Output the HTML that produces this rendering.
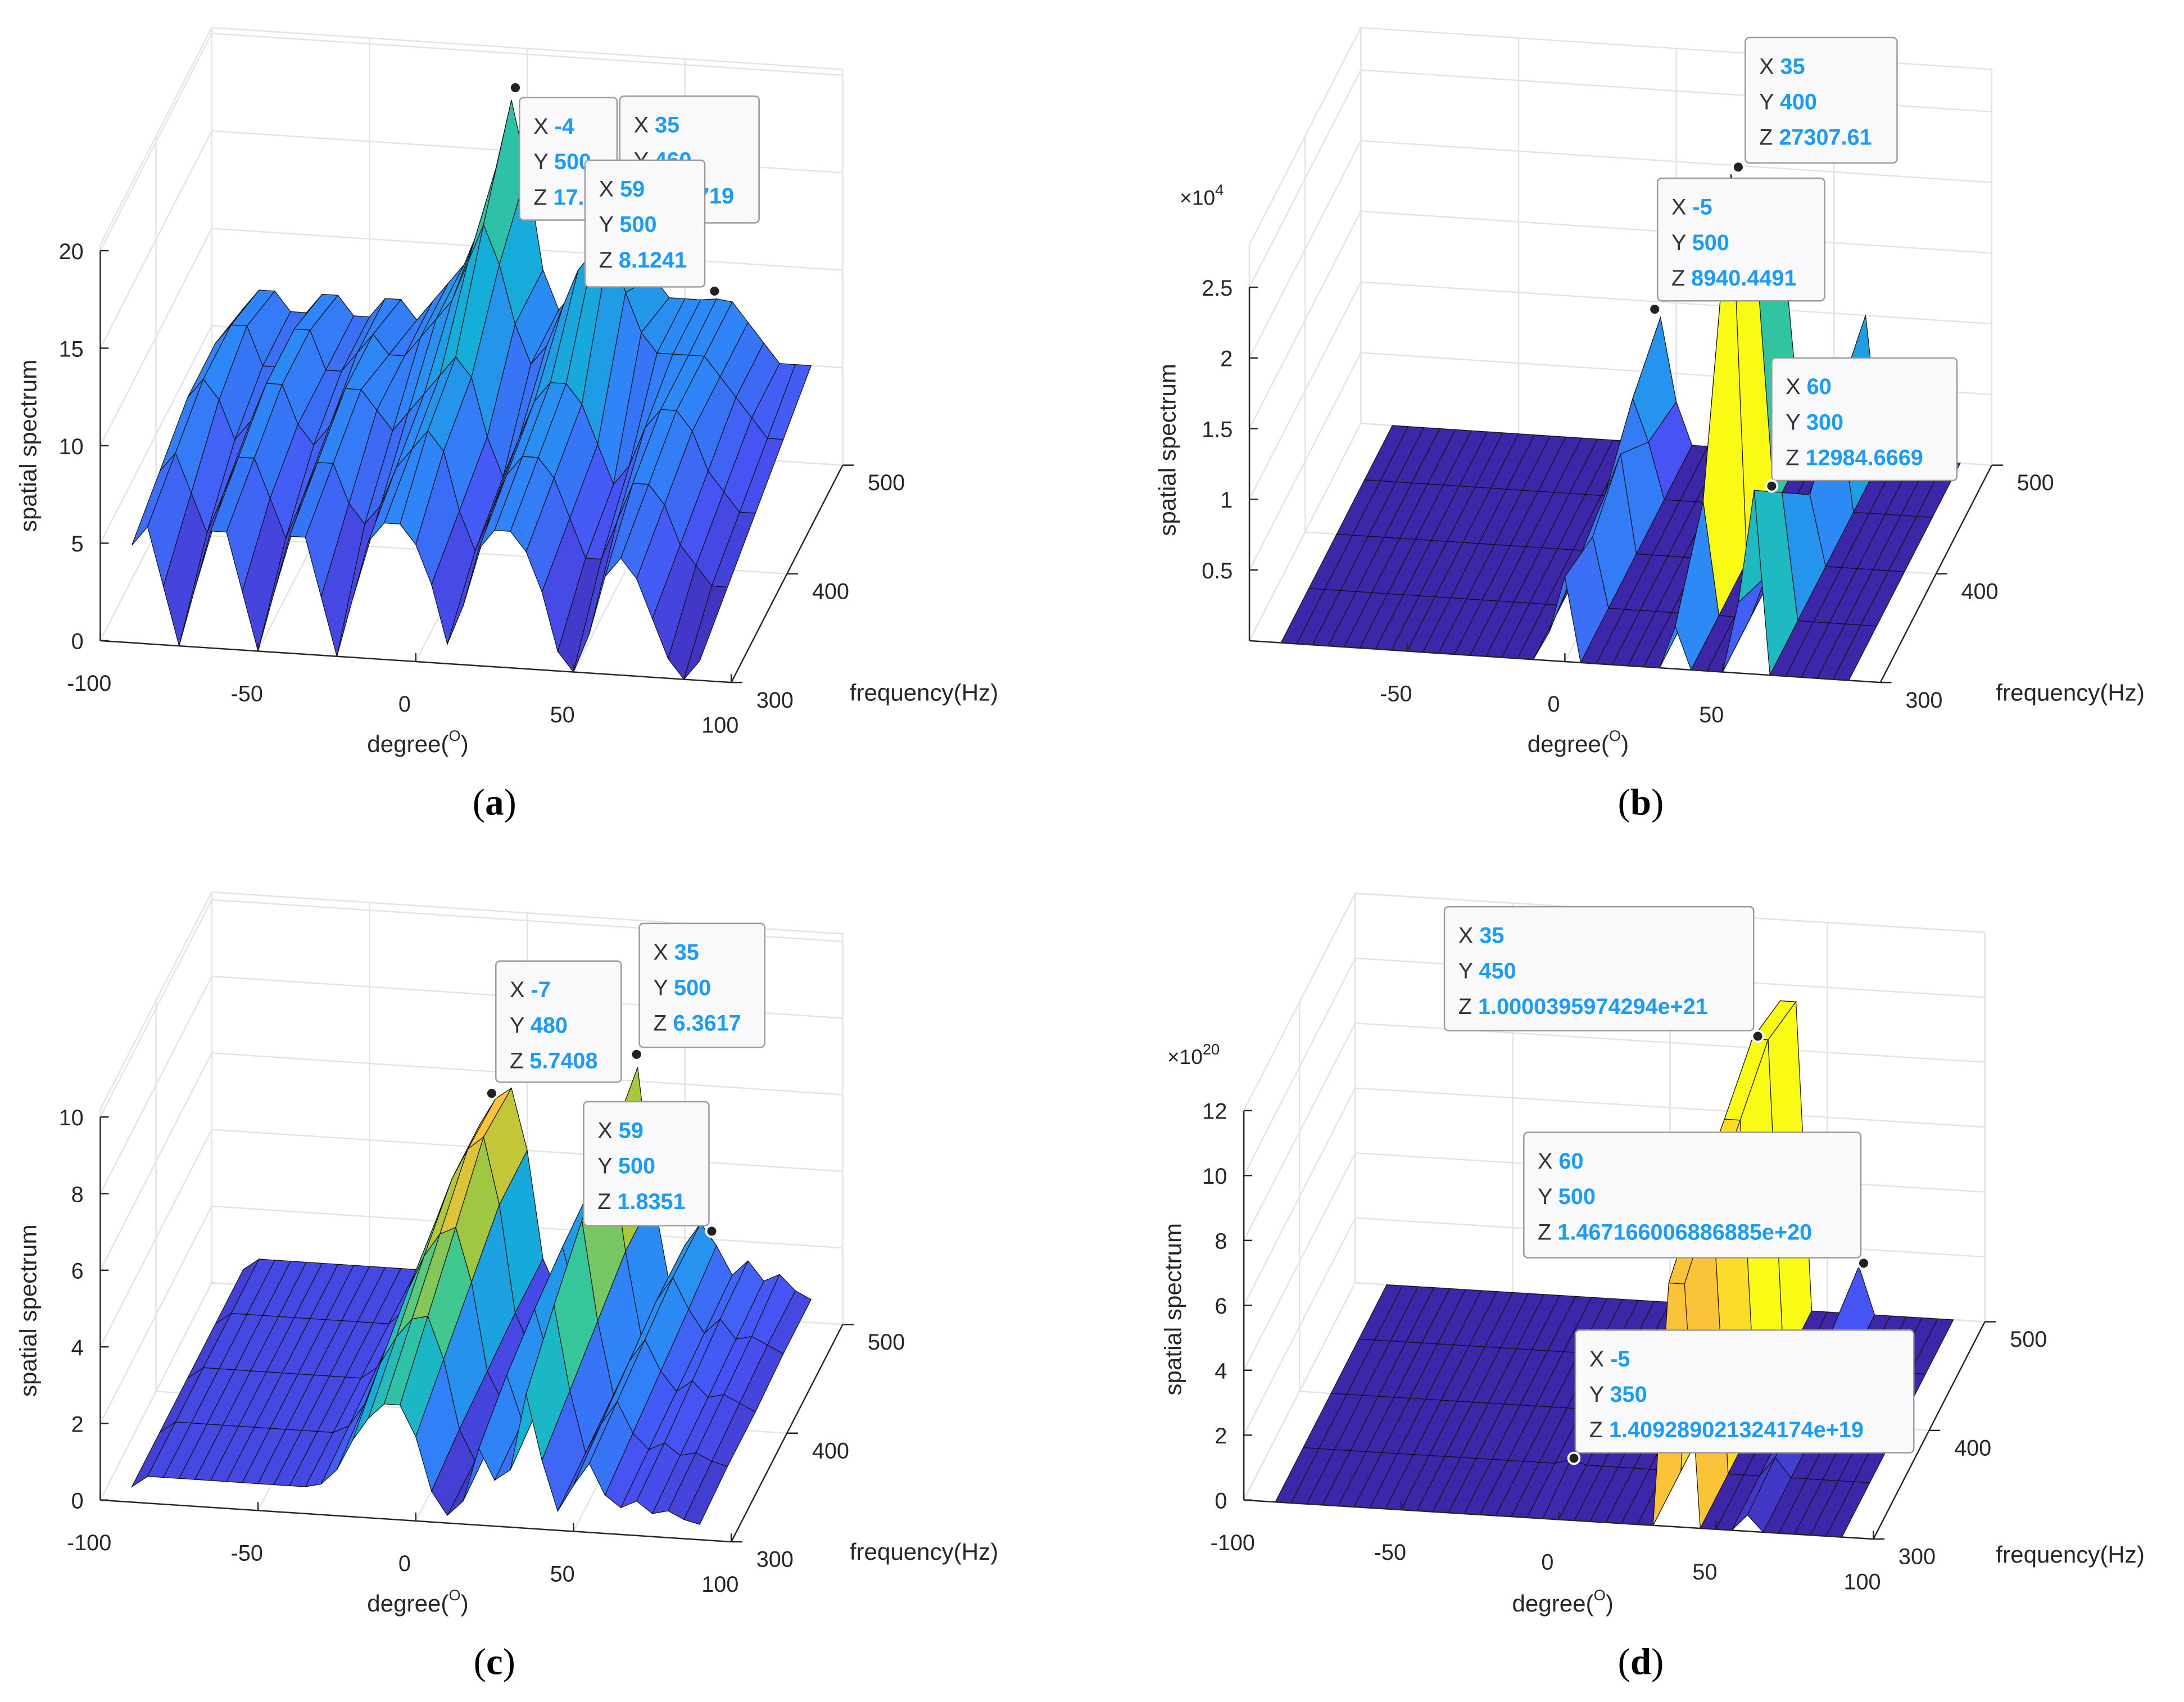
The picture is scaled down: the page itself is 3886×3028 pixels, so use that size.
<!DOCTYPE html>
<html><head><meta charset="utf-8">
<style>
html,body{margin:0;padding:0;background:#fff;}
svg{display:block;font-family:"Liberation Sans",sans-serif;}
</style></head>
<body>
<svg id="fig" width="3886" height="3028" viewBox="0 0 1568 1222" preserveAspectRatio="none" xmlns="http://www.w3.org/2000/svg"></svg>
<script>
const degs=[-90,-85,-80,-75,-70,-65,-60,-55,-50,-45,-40,-35,-30,-25,-20,-15,-10,-5,0,5,10,15,20,25,30,35,40,45,50,55,60,65,70,75,80,85,90];
const freqs=[300,350,400,450,500];
const aRow300=[5,6,3,0,3,6,6,3,0,3,6,6,3,0,3,6,7,7,6,4,1,3,6,7,7,6,4,1,0,2,5,6,5,3,1,0,1];
const aRow350=[6,7,5,3,5,7,7,5,3,5,7,7,5,4,5,7,8,9,8,5,3,5,7,8,8,7,5,3,3,5,7,7,6,4,3,2,2];
const aRow400=[7,8,7,5,6,8,8,6,5,6,8,8,7,6,7,8,9,10,9,6,4,6,8,9,9,8,6,4,5,7,8,8,7,5,4,3,3];
const aRow450=[7,8,8,6,6,8,8,6,6,7,8,7,7,8,9,10,12,14,12,9,7,8,10,12,13,13.5,11,9,8,8,8,8,7,6,5,4,4];
const aRow500=[6,7,7,6,6,7,7,6,6,7,7,6,7,8,9,11,14,17.6,14,9,7,8,9,10,11,10,9,8,8,8,8.1,8,7,6,5,5,5];
const bRow300=[0,0,0,0,0,0,0,0,0,0,0,0,0,0,0,0,0,0.2,0.6,0,0,0,0,0,0,0.3,0,0,0,0.5,1.3,0,0,0,0,0,0];
const bRow350=[0,0,0,0,0,0,0,0,0,0,0,0,0,0,0,0,0,0.3,0.5,0,0,0,0,0,0,0.8,0,0,0,0.3,0.9,0,0,0,0,0,0];
const bRow400=[0,0,0,0,0,0,0,0,0,0,0,0,0,0,0,0,0,0.4,0.7,0,0,0,0,0,0,2.73,0,0,0,0.3,0.5,0,0,0,0,0,0];
const bRow450=[0,0,0,0,0,0,0,0,0,0,0,0,0,0,0,0,0,0.7,0.4,0,0,0,0,0,0,1.5,0,0,0,0.3,0.8,0,0,0,0,0,0];
const bRow500=[0,0,0,0,0,0,0,0,0,0,0,0,0,0,0,0,0,0.89,0.3,0,0,0,0,0,0,1.2,0,0,0,0.4,1.0,0,0,0,0,0,0];
const cRow300=[0.4,0.7,0.7,0.7,0.7,0.7,0.7,0.7,0.7,0.7,0.7,0.7,0.8,1.2,2,2.6,3,3,2.2,0.8,0.2,0.6,2,1.2,1.5,3.5,1.8,0.5,1.2,1.8,1,0.7,0.9,0.6,0.7,0.5,0.4];
const cRow350=[0.4,0.7,0.7,0.7,0.7,0.7,0.7,0.7,0.7,0.7,0.7,0.7,0.9,1.5,2.6,3.3,3.8,3.9,2.8,1,0.2,0.7,2.5,1.3,1.7,4.4,2.2,0.6,1.4,2,1.2,0.8,1,0.7,0.8,0.6,0.5];
const cRow400=[0.4,0.7,0.7,0.7,0.7,0.7,0.7,0.7,0.7,0.7,0.7,0.7,1,1.8,3.1,4,4.6,4.8,3.4,1.1,0.3,0.8,2.8,1.4,1.9,5.2,2.6,0.7,1.6,2.2,1.4,0.9,1.2,0.8,0.9,0.7,0.5];
const cRow450=[0.4,0.7,0.7,0.7,0.7,0.7,0.7,0.7,0.7,0.7,0.7,0.7,1.1,2,3.5,4.6,5.4,5.74,4,1.2,0.3,0.9,3,1.5,2,5.8,3,0.8,1.8,2.4,1.6,1,1.4,0.9,1,0.8,0.6];
const cRow500=[0.4,0.7,0.7,0.7,0.7,0.7,0.7,0.7,0.7,0.7,0.7,0.7,1.1,2,3.5,4.6,5.3,5.6,4,1.2,0.3,0.9,3.1,1.5,2,6.36,3,0.8,1.8,2.4,1.84,1.1,1.5,1,1.2,0.8,0.6];
const dRow300=[0,0,0,0,0,0,0,0,0,0,0,0,0,0,0,0,0,0,0,0,0,0,0,0,0,7.5,7.5,0,0,0,0.5,0,0,0,0,0,0];
const dRow350=[0,0,0,0,0,0,0,0,0,0,0,0,0,0,0,0,0,0.14,0,0,0,0,0,0,0,8.5,8.5,0,0,0,0.6,0,0,0,0,0,0];
const dRow400=[0,0,0,0,0,0,0,0,0,0,0,0,0,0,0,0,0,0,0,0,0,0,0,0,0,9.2,9.2,0,0,0,0.8,0,0,0,0,0,0];
const dRow450=[0,0,0,0,0,0,0,0,0,0,0,0,0,0,0,0,0,0,0,0,0,0,0,0,0,10,10,0,0,0,1.1,0,0,0,0,0,0];
const dRow500=[0,0,0,0,0,0,0,0,0,0,0,0,0,0,0,0,0,0,0,0,0,0,0,0,0,9.5,9.5,0,0,0,1.47,0,0,0,0,0,0];
const zTicksA=[0,5,10,15,20], zTicksB=[0.5,1,1.5,2,2.5], zTicksC=[0,2,4,6,8,10], zTicksD=[0,2,4,6,8,10,12];
const degTicksFull=[-100,-50,0,50,100], degTicksB=[-50,0,50];
const freqTicks=[300,400,500];

const NS="http://www.w3.org/2000/svg";
const svg=document.getElementById('fig');
function el(tag,attrs,parent){const e=document.createElementNS(NS,tag);for(const k in attrs)e.setAttribute(k,attrs[k]);(parent||svg).appendChild(e);return e;}
const pc=[[62,38,168],[72,82,244],[46,135,247],[18,177,214],[55,200,151],[171,199,57],[254,195,56],[249,251,21]];
function parula(t){t=Math.max(0,Math.min(1,t))*7;const i=Math.min(6,Math.floor(t)),u=t-i;const a=pc[i],b=pc[i+1];
 return 'rgb('+a.map((v,k)=>Math.round(v+(b[k]-v)*u)).join(',')+')';}

const panels=[
 {id:'a',O:[72,460],D:[453,30],F:[80,-156],zs:14,zTop:20.3,zt:zTicksA,dt:degTicksFull,rows:[aRow300,aRow350,aRow400,aRow450,aRow500],vmax:27,mode:'avg',ylab:[20,320],xlab:[300,540],flab:[610,503],cap:[355,585]},
 {id:'b',O:[897,460],D:[453,30],F:[80,-156],zs:101.5,zTop:2.8,zt:zTicksB,dt:degTicksB,rows:[bRow300,bRow350,bRow400,bRow450,bRow500],vmax:2.73,mode:'max',ylab:[838,323],xlab:[1133,540],flab:[1433,503],cap:[1178,585]},
 {id:'c',O:[72,1077],D:[453,30],F:[80,-156],zs:27.5,zTop:10.2,zt:zTicksC,dt:degTicksFull,rows:[cRow300,cRow350,cRow400,cRow450,cRow500],vmax:6.4,mode:'avg',ylab:[20,941],xlab:[300,1157],flab:[610,1120],cap:[355,1202]},
 {id:'d',O:[893,1077],D:[452,28],F:[80,-156],zs:23.3,zTop:12,zt:zTicksD,dt:degTicksFull,rows:[dRow300,dRow350,dRow400,dRow450,dRow500],vmax:10,mode:'max',ylab:[842,940],xlab:[1122,1157],flab:[1433,1122],cap:[1178,1202]}
];
function P(c,d,f,z){const u=(d+100)/200,v=(f-300)/200;return [c.O[0]+c.D[0]*u+c.F[0]*v, c.O[1]+c.D[1]*u+c.F[1]*v-z*c.zs];}
function line(g,a,b,col,w){return el('line',{x1:a[0],y1:a[1],x2:b[0],y2:b[1],stroke:col,'stroke-width':w},g);}

panels.forEach(c=>{
 const g=el('g',{});
 
 
 const grid='#e3e3e3';
 const zs=[0].concat(c.zt);
 zs.forEach(z=>{line(g,P(c,-100,300,z),P(c,-100,500,z),grid,1);line(g,P(c,-100,500,z),P(c,100,500,z),grid,1);});
 line(g,P(c,-100,300,c.zTop),P(c,-100,500,c.zTop),grid,1);line(g,P(c,-100,500,c.zTop),P(c,100,500,c.zTop),grid,1);
 degTicksFull.forEach(d=>{line(g,P(c,d,500,0),P(c,d,500,c.zTop),grid,1);line(g,P(c,d,300,0),P(c,d,500,0),grid,1);});
 freqTicks.forEach(f=>{line(g,P(c,-100,f,0),P(c,-100,f,c.zTop),grid,1);line(g,P(c,-100,f,0),P(c,100,f,0),grid,1);});
 line(g,P(c,-100,300,0),P(c,-100,300,c.zTop),grid,1);
 const sg=el('g',{},g);
 
 
 for(let j=freqs.length-2;j>=0;j--){
  for(let i=0;i<degs.length-1;i++){
   const z1=c.rows[j][i],z2=c.rows[j][i+1],z3=c.rows[j+1][i+1],z4=c.rows[j+1][i];
   const p=[P(c,degs[i],freqs[j],z1),P(c,degs[i+1],freqs[j],z2),P(c,degs[i+1],freqs[j+1],z3),P(c,degs[i],freqs[j+1],z4)];
   const v=c.mode==='max'?Math.max(z1,z2,z3,z4):(z1+z2+z3+z4)/4;
   const q=el('polygon',{points:p.map(v=>v.join(',')).join(' '),fill:parula(v/c.vmax),stroke:'#111','stroke-width':0.5},sg);
   
   
  }
 }
 const ax='#262626';
 line(g,P(c,-100,300,0),P(c,-100,300,c.zt[c.zt.length-1]),ax,1);
 line(g,P(c,-100,300,0),P(c,100,300,0),ax,1);
 line(g,P(c,100,300,0),P(c,100,500,0),ax,1);
 c.zt.forEach(z=>{const p=P(c,-100,300,z);line(g,p,[p[0]+6,p[1]],ax,1);
  const t=el('text',{x:p[0]-12,y:p[1]+6,'font-size':16,fill:'#262626','text-anchor':'end'},g);t.textContent=String(z);
  });
 c.dt.forEach(d=>{const p=P(c,d,300,0);line(g,p,[p[0],p[1]-6],ax,1);
  const t=el('text',{x:p[0]-8,y:p[1]+36,'font-size':16,fill:'#262626','text-anchor':'middle'},g);t.textContent=String(d);
  });
 freqTicks.forEach(f=>{const p=P(c,100,f,0);line(g,p,[p[0]+8,p[1]],ax,1);
  const t=el('text',{x:p[0]+18,y:p[1]+18,'font-size':16,fill:'#262626'},g);t.textContent=String(f);
  });
 const yl=el('text',{x:c.ylab[0],y:c.ylab[1],'font-size':17,fill:'#262626','text-anchor':'middle',transform:'rotate(-90 '+c.ylab[0]+' '+c.ylab[1]+')',dy:6},g);
 yl.textContent='spatial spectrum';
 const xl=el('text',{x:c.xlab[0],y:c.xlab[1],'font-size':17,fill:'#262626','text-anchor':'middle'},g);
 xl.innerHTML='degree(<tspan font-size="11" dy="-8">O</tspan><tspan dy="8">)</tspan>';
 
 const fl=el('text',{x:c.flab[0],y:c.flab[1],'font-size':17,fill:'#262626'},g);fl.textContent='frequency(Hz)';
 
 const cp=el('text',{x:c.cap[0],y:c.cap[1],'font-size':27,fill:'#000','text-anchor':'middle','font-family':'Liberation Serif, serif'},g);
 cp.innerHTML='(<tspan font-weight="bold">'+c.id+'</tspan>)';
 
});
function expo(x,y,e){const t=el('text',{x:x,y:y,'font-size':15,fill:'#262626'});t.innerHTML='×10<tspan font-size="11" dy="-7">'+e+'</tspan>';
 }
expo(847,147,'4');expo(838,764,'20');
function tip(x,y,w,h,vals,mx,my){
 const g=el('g',{});
 
 
 el('rect',{x:x,y:y,width:w,height:h,rx:3,fill:'#f9f9fb',stroke:'#9a9a9a','stroke-width':1},g);
 ['X','Y','Z'].forEach((L,k)=>{const t=el('text',{x:x+10,y:y+26+k*25.5,'font-size':16,fill:'#333'},g);
  t.innerHTML=L+' <tspan font-weight="bold" fill="#1a9bff">'+vals[k]+'</tspan>';});
 const m=el('circle',{cx:mx,cy:my,r:4,fill:'#222',stroke:'#fff','stroke-width':1.5});
 
}
tip(373,70,70,88,['-4','500','17.5'],370,63);
tip(445,69,100,91,['35','460','13.5719'],513,209);
tip(420,115,86,91,['59','500','8.1241'],513,209);
tip(1253,27,109,90,['35','400','27307.61'],1248,120);
tip(1190,128,120,88,['-5','500','8940.4491'],1188,222);
tip(1272,257,133,88,['60','300','12984.6669'],1272,349);
tip(356,690,90,87,['-7','480','5.7408'],353,785);
tip(459,663,90,89,['35','500','6.3617'],457,757);
tip(419,791,90,89,['59','500','1.8351'],511,884);
tip(1037,651,222,89,['35','450','1.0000395974294e+21'],1262,744);
tip(1094,813,242,90,['60','500','1.467166006886885e+20'],1338,907);
tip(1131,955,243,88,['-5','350','1.409289021324174e+19'],1130,1047);
</script>
</body></html>
